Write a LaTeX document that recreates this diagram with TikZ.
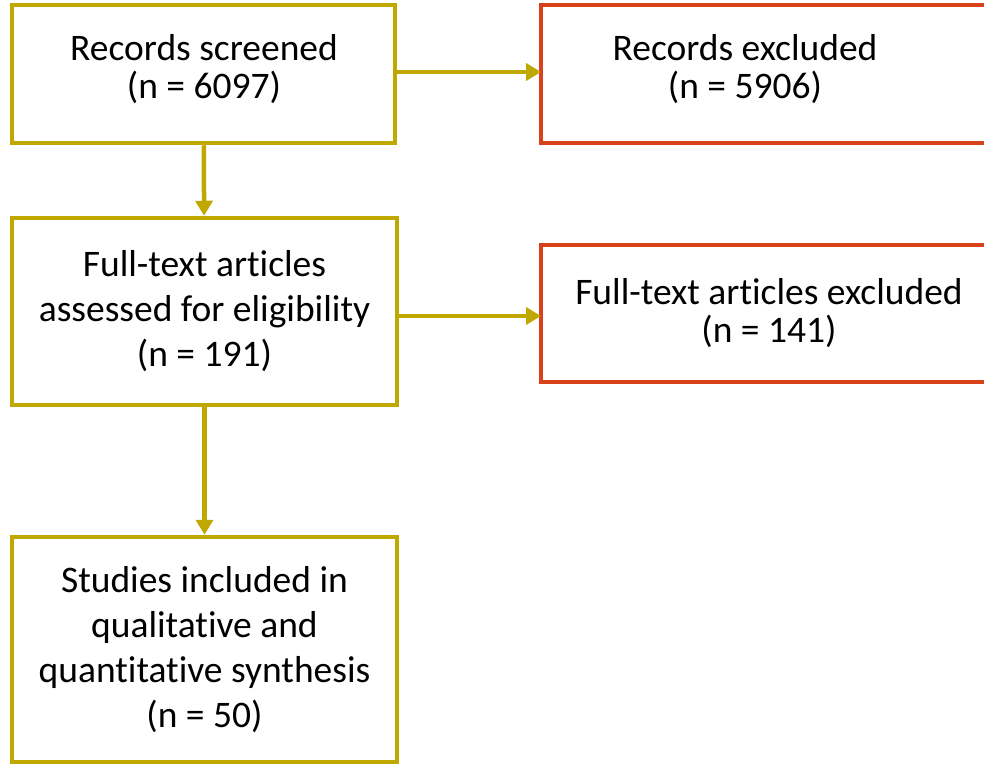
\documentclass[tikz,border=0pt]{standalone}
\usepackage{fontspec}
\setmainfont{Carlito}[Ligatures=NoCommon]
\usetikzlibrary{arrows.meta}

\definecolor{gold}{HTML}{BFA800}
\definecolor{brick}{HTML}{D9411B}

\tikzset{
  stage/.style={draw=gold, line width=4.5pt, align=center, inner sep=0pt,
    font=\fontsize{37.5}{45}\selectfont},
  excl/.style={align=center, inner sep=0pt, font=\fontsize{37.5}{38}\selectfont},
  flow/.style={draw=gold, line width=4.5pt, -{Triangle[length=15pt,width=17pt]}},
}

\begin{document}
\begin{tikzpicture}[x=1pt, y=-1pt]
  \useasboundingbox (0,0) rectangle (984,765);

  % stages
  \node[stage, minimum width=383pt, minimum height=138pt] (screen) at (203.5,74) {};
  \node[excl] (screentext) at (204,69) {Records screened\\(n = 6097)};
  \node[stage, minimum width=385pt, minimum height=187pt] (full) at (204.5,311.5)
    {Full-text articles\\assessed for eligibility\\(n = 191)};
  \node[stage, minimum width=385pt, minimum height=225pt] (incl) at (204.5,649.5)
    {Studies included in\\qualitative and\\quantitative synthesis\\(n = 50)};

  % exclusions
  \node[excl] (recexcl) at (745,69) {Records excluded\\(n = 5906)};
  \node[excl] (fullexcl) at (769,313) {Full-text articles excluded\\(n = 141)};
  \draw[brick, line width=4.5pt] (541,5) rectangle (1010,143);
  \draw[brick, line width=4.5pt] (541,245) rectangle (1010,382);
  \coordinate (recin) at (541,72);
  \coordinate (fullin) at (541,316);

  \draw[flow] (screen.east |- recin) -- (recin);
  \draw[flow] (screen) -- (full);
  \draw[flow] (full.east |- fullin) -- (fullin);
  \draw[flow] (full) -- (incl);
\end{tikzpicture}
\end{document}
